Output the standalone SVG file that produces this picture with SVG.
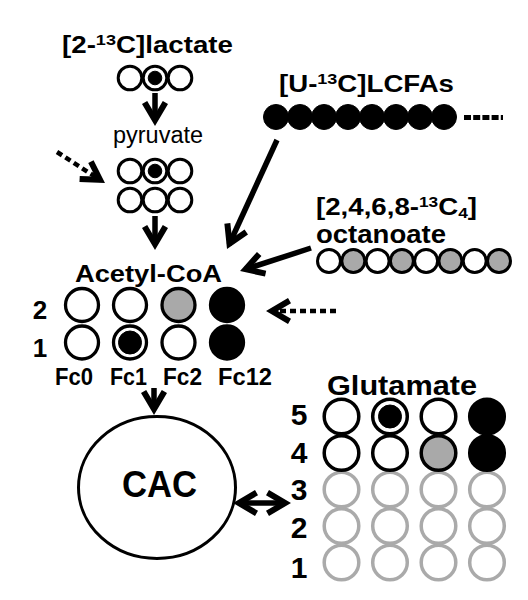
<svg xmlns="http://www.w3.org/2000/svg" width="528" height="600" viewBox="0 0 528 600">
<style>
text{font-family:"Liberation Sans",Arial,sans-serif;fill:#000}
.b{font-weight:bold}
.w{fill:#fff;stroke:#000}
.g{fill:#a9a9a9;stroke:#000}
.k{fill:#000;stroke:#000}
.lg{fill:#fff;stroke:#aaaaaa}
.s{stroke-width:3}
.m{stroke-width:3.3}
.l{stroke-width:3.5}
.arr{fill:none;stroke:#000;stroke-width:5.5}
.dash{fill:none;stroke:#000;stroke-width:4.5;stroke-dasharray:6 4}
</style>
<defs>
<marker id="ah" markerUnits="userSpaceOnUse" viewBox="-25 -15 32 30" markerWidth="32" markerHeight="30" refX="0" refY="0" orient="auto-start-reverse" overflow="visible">
<path d="M5,0 L-17,-13 L-20,-7.8 L-6.8,0 L-20,7.8 L-17,13 Z" fill="#000"/>
</marker>
</defs>
<rect width="528" height="600" fill="#fff"/>

<g id="lactate">
<text class="b" x="62" y="53" font-size="23" textLength="171" lengthAdjust="spacingAndGlyphs">[2-<tspan font-size="15" dy="-8">13</tspan><tspan dy="8">C]lactate</tspan></text>
<circle class="w s" cx="130" cy="78" r="11.8"/>
<circle class="w s" cx="180" cy="78" r="11.8"/>
<circle class="w s" cx="155" cy="78" r="11.8"/>
<circle class="k" cx="155" cy="78" r="6.8" stroke="none"/>
</g>

<g id="pyruvate">
<text x="113" y="143" font-size="23" textLength="90" lengthAdjust="spacingAndGlyphs">pyruvate</text>
<circle class="w s" cx="130" cy="171" r="11.8"/>
<circle class="w s" cx="180" cy="171" r="11.8"/>
<circle class="w s" cx="155" cy="171" r="11.8"/>
<circle class="k" cx="155" cy="171" r="6.8" stroke="none"/>
<circle class="w s" cx="130" cy="200" r="11.8"/>
<circle class="w s" cx="180" cy="200" r="11.8"/>
<circle class="w s" cx="155" cy="200" r="11.8"/>
</g>

<g id="lcfas">
<text class="b" x="279" y="92" font-size="23" textLength="175" lengthAdjust="spacingAndGlyphs">[U-<tspan font-size="15" dy="-8">13</tspan><tspan dy="8">C]LCFAs</tspan></text>
<circle class="k" cx="276" cy="117" r="12.5"/>
<circle class="k" cx="300" cy="117" r="12.5"/>
<circle class="k" cx="324" cy="117" r="12.5"/>
<circle class="k" cx="348" cy="117" r="12.5"/>
<circle class="k" cx="372" cy="117" r="12.5"/>
<circle class="k" cx="396" cy="117" r="12.5"/>
<circle class="k" cx="420" cy="117" r="12.5"/>
<circle class="k" cx="444" cy="117" r="12.5"/>
<line x1="464" y1="117.5" x2="503" y2="117.5" stroke="#000" stroke-width="5" stroke-dasharray="7 2.2"/>
</g>

<g id="octanoate">
<text class="b" x="316" y="215" font-size="24" textLength="161" lengthAdjust="spacingAndGlyphs">[2,4,6,8-<tspan font-size="15" dy="-8">13</tspan><tspan dy="8">C</tspan><tspan font-size="15" dy="3">4</tspan><tspan dy="-3">]</tspan></text>
<text class="b" x="316" y="243" font-size="26" textLength="130" lengthAdjust="spacingAndGlyphs">octanoate</text>
<circle class="w s" cx="329" cy="261" r="11.5"/>
<circle class="g s" cx="353.3" cy="261" r="11.5"/>
<circle class="w s" cx="377.6" cy="261" r="11.5"/>
<circle class="g s" cx="401.9" cy="261" r="11.5"/>
<circle class="w s" cx="426.1" cy="261" r="11.5"/>
<circle class="g s" cx="450.4" cy="261" r="11.5"/>
<circle class="w s" cx="474.7" cy="261" r="11.5"/>
<circle class="g s" cx="499" cy="261" r="11.5"/>
</g>

<g id="acetylcoa">
<text class="b" x="75" y="282" font-size="24" textLength="147" lengthAdjust="spacingAndGlyphs">Acetyl-CoA</text>
<text class="b" x="40" y="319" font-size="26" text-anchor="middle">2</text>
<text class="b" x="40" y="357" font-size="26" text-anchor="middle">1</text>
<circle class="w m" cx="82" cy="305" r="16.5"/>
<circle class="w m" cx="82" cy="342.5" r="16.5"/>
<circle class="w m" cx="130" cy="305" r="16.5"/>
<circle class="w m" cx="130" cy="342.5" r="16.5"/>
<circle class="k" cx="130" cy="342.5" r="11.5" stroke="none"/>
<circle class="g m" cx="178.5" cy="305" r="16.5"/>
<circle class="w m" cx="178.5" cy="342.5" r="16.5"/>
<circle class="k m" cx="227" cy="305" r="16.5"/>
<circle class="k m" cx="227" cy="342.5" r="16.5"/>
<text class="b" x="74" y="385" font-size="23" text-anchor="middle" textLength="38" lengthAdjust="spacingAndGlyphs">Fc0</text>
<text class="b" x="128.5" y="385" font-size="23" text-anchor="middle" textLength="37" lengthAdjust="spacingAndGlyphs">Fc1</text>
<text class="b" x="182.5" y="385" font-size="23" text-anchor="middle" textLength="39" lengthAdjust="spacingAndGlyphs">Fc2</text>
<text class="b" x="245" y="385" font-size="23" text-anchor="middle" textLength="54" lengthAdjust="spacingAndGlyphs">Fc12</text>
</g>

<g id="cac">
<ellipse cx="157" cy="487.5" rx="78.5" ry="71" fill="#fff" stroke="#000" stroke-width="3"/>
<text class="b" x="159.5" y="497" font-size="36" text-anchor="middle" textLength="75" lengthAdjust="spacingAndGlyphs">CAC</text>
</g>

<g id="glutamate">
<text class="b" x="327" y="395" font-size="28" textLength="150" lengthAdjust="spacingAndGlyphs">Glutamate</text>
<text class="b" x="299" y="425" font-size="30" text-anchor="middle">5</text>
<text class="b" x="299" y="463" font-size="30" text-anchor="middle">4</text>
<text class="b" x="299" y="500" font-size="30" text-anchor="middle">3</text>
<text class="b" x="299" y="538" font-size="30" text-anchor="middle">2</text>
<text class="b" x="299" y="578" font-size="30" text-anchor="middle">1</text>
<circle class="lg l" cx="341.5" cy="562.5" r="17.3"/>
<circle class="lg l" cx="390" cy="562.5" r="17.3"/>
<circle class="lg l" cx="438.5" cy="562.5" r="17.3"/>
<circle class="lg l" cx="487" cy="562.5" r="17.3"/>
<circle class="lg l" cx="341.5" cy="526" r="17.3"/>
<circle class="lg l" cx="390" cy="526" r="17.3"/>
<circle class="lg l" cx="438.5" cy="526" r="17.3"/>
<circle class="lg l" cx="487" cy="526" r="17.3"/>
<circle class="lg l" cx="341.5" cy="489.5" r="17.3"/>
<circle class="lg l" cx="390" cy="489.5" r="17.3"/>
<circle class="lg l" cx="438.5" cy="489.5" r="17.3"/>
<circle class="lg l" cx="487" cy="489.5" r="17.3"/>
<circle class="w l" cx="341.5" cy="453" r="17.3"/>
<circle class="w l" cx="390" cy="453" r="17.3"/>
<circle class="g l" cx="438.5" cy="453" r="17.3"/>
<circle class="k l" cx="487" cy="453" r="17.3"/>
<circle class="w l" cx="341.5" cy="416.5" r="17.3"/>
<circle class="w l" cx="390" cy="416.5" r="17.3"/>
<circle class="k" cx="390" cy="416.5" r="11.5" stroke="none"/>
<circle class="w l" cx="438.5" cy="416.5" r="17.3"/>
<circle class="k l" cx="487" cy="416.5" r="17.3"/>
</g>

<g id="connectors">
<line class="arr" x1="155" y1="93" x2="155" y2="121" marker-end="url(#ah)"/>
<line class="arr" x1="155" y1="216" x2="155" y2="245" marker-end="url(#ah)"/>
<line class="arr" x1="154" y1="388" x2="154" y2="410" marker-end="url(#ah)"/>
<line class="arr" x1="277" y1="140" x2="229.1" y2="244.5" marker-end="url(#ah)"/>
<line class="arr" x1="311" y1="248" x2="244.8" y2="269.5" marker-end="url(#ah)"/>
<line class="dash" x1="57" y1="152" x2="100.8" y2="180.3" marker-end="url(#ah)"/>
<line class="dash" x1="336" y1="311" x2="271" y2="311" marker-end="url(#ah)"/>
<line class="arr" x1="238" y1="503" x2="286" y2="503" marker-start="url(#ah)" marker-end="url(#ah)"/>
</g>
</svg>
